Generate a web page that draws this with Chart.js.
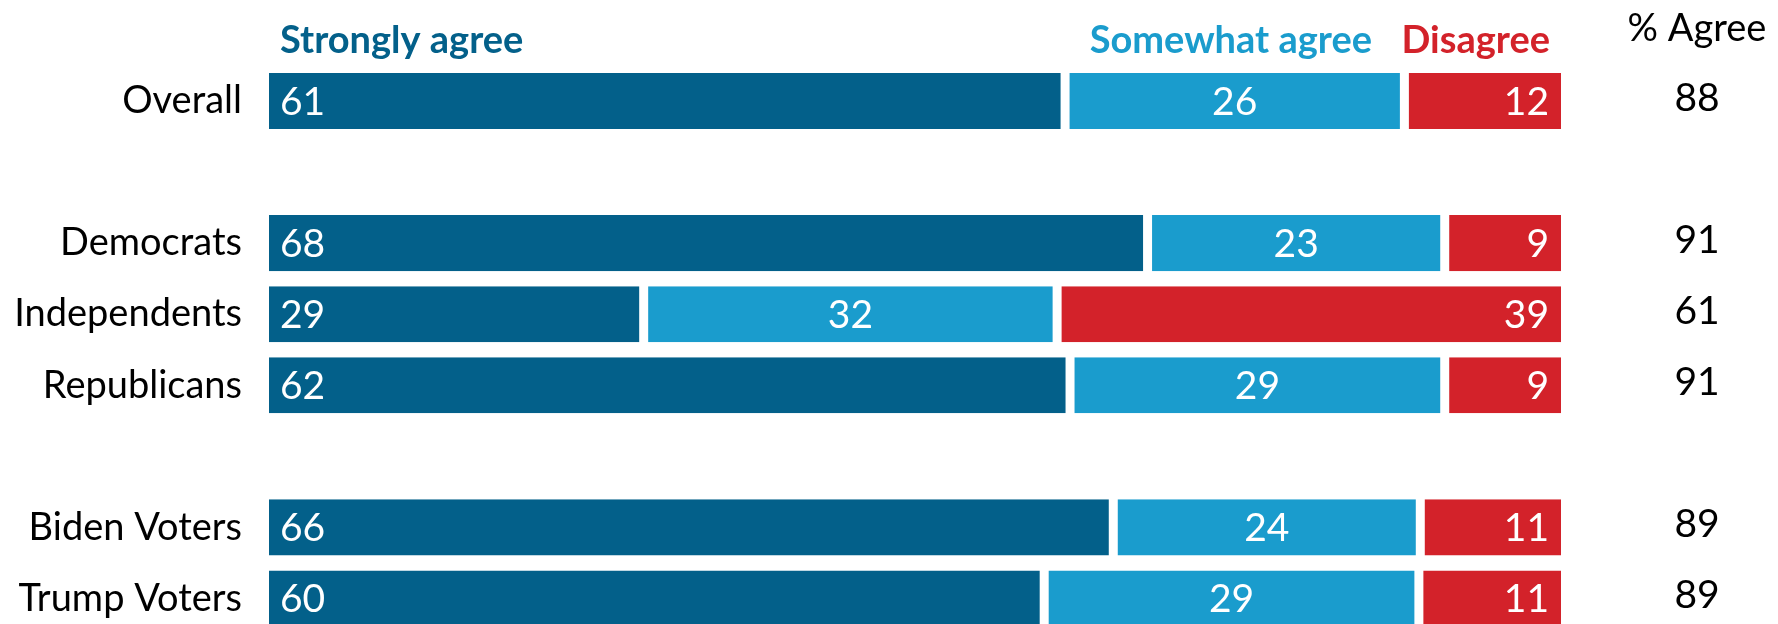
<!DOCTYPE html>
<html>
<head>
<meta charset="utf-8">
<script src="https://cdn.jsdelivr.net/npm/chart.js@4.4.1/dist/chart.umd.min.js"></script>
<style>
  html, body { margin: 0; padding: 0; background: #fff; overflow: hidden; }
  .frame { width: 1778px; height: 624px; overflow: hidden; }
  canvas { display: block; }
</style>
</head>
<body>
<div class="frame"><canvas id="chart" width="1778" height="640"></canvas></div>
<script>
const groups = ['Overall', '', 'Democrats', 'Independents', 'Republicans', '', 'Biden Voters', 'Trump Voters'];
const stronglyAgree = [61, null, 68, 29, 62, null, 66, 60];
const somewhatAgree = [26, null, 23, 32, 29, null, 24, 29];
const disagree = [12, null, 9, 39, 9, null, 11, 11];
const totalAgree = [88, null, 91, 61, 91, null, 89, 89];
const seriesNames = ['Strongly agree', 'Somewhat agree', 'Disagree'];

const colors = ['#03608a', '#1a9ccd', '#d3222a'];
const fontFamily = 'Lato, "Noto Sans", sans-serif';

// bars are stretched so every row fills the full width
const rowSum = groups.map((g, i) => (stronglyAgree[i] || 0) + (somewhatAgree[i] || 0) + (disagree[i] || 0));
const share = (arr) => arr.map((v, i) => v === null ? null : v / rowSum[i] * 100);

const raw = [stronglyAgree, somewhatAgree, disagree];
const gap = 4.5;
const borders = [
    {left: 0, right: gap, top: 0, bottom: 0},
    {left: gap, right: gap, top: 0, bottom: 0},
    {left: gap, right: 0, top: 0, bottom: 0}
];

const datasets = raw.map((arr, k) => ({
    label: seriesNames[k],
    data: share(arr),
    backgroundColor: colors[k],
    borderColor: '#ffffff',
    borderWidth: borders[k],
    borderSkipped: false,
    barPercentage: 0.79,
    categoryPercentage: 1
}));

const labelsPlugin = {
    id: 'labels',
    afterDatasetsDraw(chart) {
        const ctx = chart.ctx;
        const area = chart.chartArea;
        const yScale = chart.scales.y;
        ctx.save();
        ctx.textBaseline = 'middle';
        ctx.font = '39px ' + fontFamily;
        ctx.fillStyle = '#ffffff';
        chart.data.datasets.forEach((ds, k) => {
            const meta = chart.getDatasetMeta(k);
            meta.data.forEach((bar, i) => {
                if (raw[k][i] === null) return;
                const text = String(raw[k][i]);
                if (k === 0) {
                    ctx.textAlign = 'left';
                    ctx.fillText(text, bar.base + 11, bar.y + 1);
                } else if (k === 1) {
                    ctx.textAlign = 'center';
                    ctx.fillText(text, (bar.base + bar.x) / 2, bar.y + 1);
                } else {
                    ctx.textAlign = 'right';
                    ctx.fillText(text, bar.x - 12, bar.y + 1);
                }
            });
        });

        // % Agree column
        ctx.fillStyle = '#000000';
        ctx.textAlign = 'center';
        totalAgree.forEach((v, i) => {
            if (v === null) return;
            ctx.fillText(String(v), 1697, yScale.getPixelForValue(i) - 3);
        });
        ctx.font = '38px ' + fontFamily;
        ctx.textBaseline = 'alphabetic';
        ctx.fillText('% Agree', 1697, 41);

        // series headers
        ctx.font = 'bold 38px ' + fontFamily;
        ctx.fillStyle = colors[0];
        ctx.textAlign = 'left';
        ctx.fillText(seriesNames[0], area.left + 11, 53);
        ctx.fillStyle = colors[1];
        ctx.textAlign = 'right';
        ctx.fillText(seriesNames[1], 1372, 53);
        ctx.fillStyle = colors[2];
        ctx.fillText(seriesNames[2], area.right - 11, 53);
        ctx.restore();
    }
};

new Chart(document.getElementById('chart'), {
    type: 'bar',
    data: { labels: groups, datasets: datasets },
    options: {
        indexAxis: 'y',
        animation: false,
        responsive: false,
        devicePixelRatio: 1,
        layout: { padding: { left: 0, right: 217, top: 65.5, bottom: 6 } },
        plugins: {
            legend: { display: false },
            tooltip: { enabled: false }
        },
        scales: {
            x: { stacked: true, min: 0, max: 100, display: false },
            y: {
                stacked: true,
                grid: { display: false, drawTicks: false },
                border: { display: false },
                afterFit: (scale) => {
                    scale.width = 269;
                    // labels should not push the plot area in
                    scale.paddingTop = 0;
                    scale.paddingBottom = 0;
                },
                ticks: {
                    padding: 27,
                    color: '#000000',
                    font: { family: fontFamily, size: 38 }
                }
            }
        }
    },
    plugins: [labelsPlugin]
});
</script>
</body>
</html>
